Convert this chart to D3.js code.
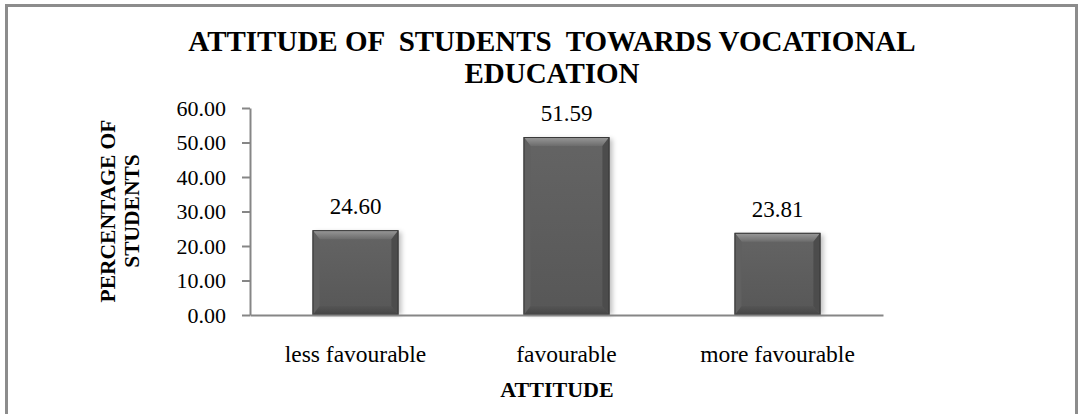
<!DOCTYPE html>
<html><head><meta charset="utf-8">
<script src="https://cdn.jsdelivr.net/npm/d3@7"></script>
<style>html,body{margin:0;padding:0;background:#fff;overflow:hidden} text{white-space:pre}</style>
</head><body>
<svg id="c" width="1078" height="414"></svg>
<script>
const categories = ["less favourable", "favourable", "more favourable"];
const values = [24.60, 51.59, 23.81];
const yTicks = [0, 10, 20, 30, 40, 50, 60];
const titleLines = ["ATTITUDE OF  STUDENTS  TOWARDS VOCATIONAL", "EDUCATION"];
const yTitle = ["PERCENTAGE OF", "STUDENTS"];
const xTitle = "ATTITUDE";

const svg = d3.select("#c");
const font = "'Liberation Serif','Times New Roman',serif";
const m = {left: 250, right: 883, top: 108, bottom: 315};

// border
svg.append("rect").attr("x", 6.5).attr("y", 5.5).attr("width", 1070).attr("height", 420)
  .attr("fill", "none").attr("stroke", "#8c8c8c").attr("stroke-width", 3);

const x = d3.scaleBand().domain(categories).range([m.left, m.right]).paddingInner(0.593).paddingOuter(0.2965);
const y = d3.scaleLinear().domain([0, 60]).range([m.bottom, m.top]);

const defs = svg.append("defs");
const gT = defs.append("linearGradient").attr("id", "gT").attr("x1", 0).attr("y1", 0).attr("x2", 0).attr("y2", 1);
gT.append("stop").attr("offset", 0).attr("stop-color", "#9a9a9a");
gT.append("stop").attr("offset", 1).attr("stop-color", "#6c6c6c");
const gB = defs.append("linearGradient").attr("id", "gB").attr("x1", 0).attr("y1", 0).attr("x2", 0).attr("y2", 1);
gB.append("stop").attr("offset", 0).attr("stop-color", "#555");
gB.append("stop").attr("offset", 1).attr("stop-color", "#444");
const gM = defs.append("linearGradient").attr("id", "gM").attr("x1", 0).attr("y1", 0).attr("x2", 0).attr("y2", 1);
gM.append("stop").attr("offset", 0).attr("stop-color", "#646464");
gM.append("stop").attr("offset", 1).attr("stop-color", "#575757");
const sh = defs.append("filter").attr("id", "sh").attr("x", "-20%").attr("y", "-20%").attr("width", "140%").attr("height", "140%");
sh.append("feGaussianBlur").attr("stdDeviation", 2.5);

// axes
const yAxis = svg.append("g").attr("transform", `translate(${m.left},0)`)
  .call(d3.axisLeft(y).tickValues(yTicks).tickSize(8).tickSizeOuter(0).tickFormat(d3.format(".2f")));
yAxis.selectAll("path,line").attr("stroke", "#868686").attr("stroke-width", 2);
yAxis.selectAll("text").attr("font-family", font).attr("font-size", 22).attr("fill", "#000")
  .attr("x", -24).attr("dy", "0.33em").attr("transform", null);

// bars
const bars = svg.append("g").selectAll("g").data(values).join("g");
const bw = x.bandwidth();
bars.append("rect").attr("x", (d, i) => x(categories[i]) + 3).attr("y", d => y(d) + 2)
  .attr("width", bw).attr("height", d => m.bottom - y(d) - 2).attr("fill", "#000").attr("opacity", 0.25).attr("filter", "url(#sh)");
bars.append("rect").attr("x", (d, i) => x(categories[i])).attr("y", d => y(d))
  .attr("width", bw).attr("height", d => m.bottom - y(d)).attr("fill", "url(#gM)");
const bv = 9, sv = 7;
const poly = (pts) => pts.map(p => p.join(",")).join(" ");
bars.append("polygon").attr("fill", "url(#gT)").attr("points", (d, i) => {
  const x0 = x(categories[i]), x1 = x0 + bw, y0 = y(d);
  return poly([[x0, y0], [x1, y0], [x1 - sv, y0 + bv], [x0 + sv, y0 + bv]]);
});
bars.append("polygon").attr("fill", "url(#gB)").attr("points", (d, i) => {
  const x0 = x(categories[i]), x1 = x0 + bw, y1 = m.bottom;
  return poly([[x0, y1], [x1, y1], [x1 - sv, y1 - bv], [x0 + sv, y1 - bv]]);
});
bars.append("polygon").attr("fill", "#606060").attr("points", (d, i) => {
  const x0 = x(categories[i]), y0 = y(d), y1 = m.bottom;
  return poly([[x0, y0], [x0 + sv, y0 + bv], [x0 + sv, y1 - bv], [x0, y1]]);
});
bars.append("polygon").attr("fill", "#4c4c4c").attr("points", (d, i) => {
  const x1 = x(categories[i]) + bw, y0 = y(d), y1 = m.bottom;
  return poly([[x1, y0], [x1 - sv, y0 + bv], [x1 - sv, y1 - bv], [x1, y1]]);
});
bars.append("rect").attr("x", (d, i) => x(categories[i]) + 0.5).attr("y", d => y(d) + 0.5)
  .attr("width", bw - 1).attr("height", d => m.bottom - y(d) - 1).attr("fill", "none").attr("stroke", "#3a3a3a").attr("stroke-width", 1);

// value labels
bars.append("text").attr("x", (d, i) => x(categories[i]) + bw / 2).attr("y", d => y(d) - 16)
  .attr("text-anchor", "middle").attr("font-family", font).attr("font-size", 23).text(d => d.toFixed(2));

// x axis line
const xAxis = svg.append("g").attr("transform", `translate(0,${m.bottom})`)
  .call(d3.axisBottom(x).tickSize(0).tickSizeOuter(0));
xAxis.select("path").attr("stroke", "#868686").attr("stroke-width", 2);
xAxis.selectAll("text").attr("font-family", font).attr("font-size", 23.5).attr("fill", "#000").attr("dy", 0).attr("y", 47);

// titles
const title = svg.append("text").attr("text-anchor", "middle").attr("font-family", font)
  .attr("font-weight", "bold").attr("font-size", 29);
title.append("tspan").attr("x", 552).attr("y", 51).text(titleLines[0]);
title.append("tspan").attr("x", 552).attr("y", 83).text(titleLines[1]);

const yt = svg.append("text").attr("transform", "translate(0,211) rotate(-90)").attr("text-anchor", "middle")
  .attr("font-family", font).attr("font-weight", "bold").attr("font-size", 21.5);
yt.append("tspan").attr("x", 0).attr("y", 115).text(yTitle[0]);
yt.append("tspan").attr("x", 0).attr("y", 139).text(yTitle[1]);

svg.append("text").attr("x", 557).attr("y", 397).attr("text-anchor", "middle").attr("font-family", font)
  .attr("font-weight", "bold").attr("font-size", 22).text(xTitle);
</script>
</body></html>
